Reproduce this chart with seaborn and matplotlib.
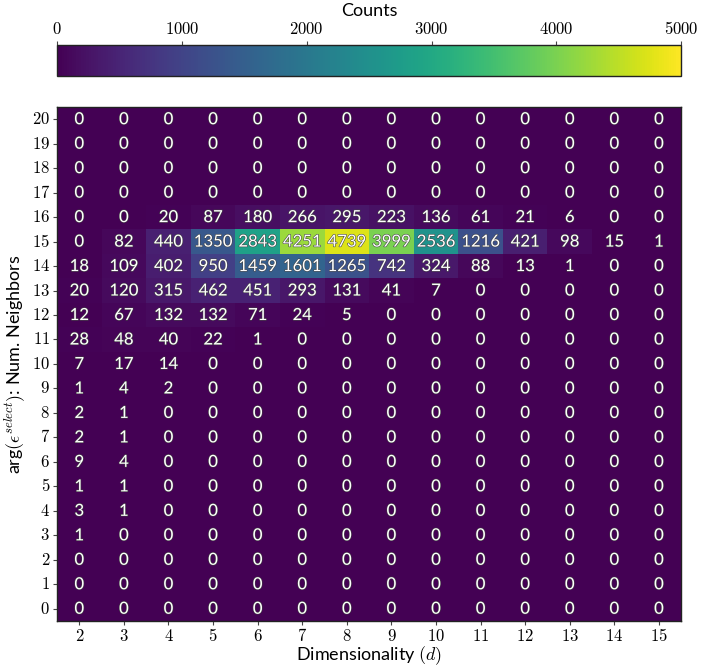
import numpy as np
import pandas as pd
import matplotlib
matplotlib.use("Agg")
import matplotlib.pyplot as plt
import matplotlib.patheffects as pe
import seaborn as sns

# data
dims = list(range(2, 16))
neighbors = list(range(20, -1, -1))

row_20 = [0] * 14
row_19 = [0] * 14
row_18 = [0] * 14
row_17 = [0] * 14
row_16 = [0, 0, 20, 87, 180, 266, 295, 223, 136, 61, 21, 6, 0, 0]
row_15 = [0, 82, 440, 1350, 2843, 4251, 4739, 3999, 2536, 1216, 421, 98, 15, 1]
row_14 = [18, 109, 402, 950, 1459, 1601, 1265, 742, 324, 88, 13, 1, 0, 0]
row_13 = [20, 120, 315, 462, 451, 293, 131, 41, 7, 0, 0, 0, 0, 0]
row_12 = [12, 67, 132, 132, 71, 24, 5, 0, 0, 0, 0, 0, 0, 0]
row_11 = [28, 48, 40, 22, 1, 0, 0, 0, 0, 0, 0, 0, 0, 0]
row_10 = [7, 17, 14, 0, 0, 0, 0, 0, 0, 0, 0, 0, 0, 0]
row_9 = [1, 4, 2, 0, 0, 0, 0, 0, 0, 0, 0, 0, 0, 0]
row_8 = [2, 1, 0, 0, 0, 0, 0, 0, 0, 0, 0, 0, 0, 0]
row_7 = [2, 1, 0, 0, 0, 0, 0, 0, 0, 0, 0, 0, 0, 0]
row_6 = [9, 4, 0, 0, 0, 0, 0, 0, 0, 0, 0, 0, 0, 0]
row_5 = [1, 1, 0, 0, 0, 0, 0, 0, 0, 0, 0, 0, 0, 0]
row_4 = [3, 1, 0, 0, 0, 0, 0, 0, 0, 0, 0, 0, 0, 0]
row_3 = [1, 0, 0, 0, 0, 0, 0, 0, 0, 0, 0, 0, 0, 0]
row_2 = [0] * 14
row_1 = [0] * 14
row_0 = [0] * 14

rows = [row_20, row_19, row_18, row_17, row_16, row_15, row_14, row_13, row_12,
        row_11, row_10, row_9, row_8, row_7, row_6, row_5, row_4, row_3, row_2,
        row_1, row_0]

cbar_ticks = [0, 1000, 2000, 3000, 4000, 5000]

df = pd.DataFrame(rows, index=neighbors, columns=dims)

plt.rcParams['mathtext.fontset'] = 'cm'

fig = plt.figure(figsize=(7.25, 6.66), dpi=100)
ax = fig.add_axes([0.0786, 0.0676, 0.861, 0.7718])
cax = fig.add_axes([0.0786, 0.8859, 0.861, 0.0465])

sns.heatmap(df, ax=ax, cbar_ax=cax, cmap='viridis', vmin=0, vmax=5000,
            annot=True, fmt='d',
            annot_kws={'color': 'white', 'fontsize': 12, 'family': 'Lato'},
            cbar_kws={'orientation': 'horizontal', 'ticks': cbar_ticks})

# seaborn picks text color per cell; force all white with a faint outline
for t in ax.texts:
    t.set_color('white')
    t.set_path_effects([pe.withStroke(linewidth=0.8, foreground='#444444')])

for s in ax.spines.values():
    s.set_visible(True)
    s.set_color('#222222')
    s.set_linewidth(1.0)

ax.set_xticklabels([f'${d}$' for d in dims], rotation=0, fontsize=12)
ax.set_yticklabels([f'${n}$' for n in neighbors], rotation=0, fontsize=12)
ax.tick_params(axis='both', length=3, pad=2, color='#444444')
ax.tick_params(axis='x', pad=1)
ax.set_xlabel(r'Dimensionality $(d)$', fontsize=13, family='Lato', labelpad=0)
ax.set_ylabel(r'arg$(\epsilon^{select})$: Num. Neighbors', fontsize=13, family='Lato', labelpad=3)

cax.xaxis.set_ticks_position('top')
cax.xaxis.set_label_position('top')
cax.set_xticklabels([f'${v}$' for v in cbar_ticks], fontsize=12)
cax.set_xlabel('Counts', fontsize=13, family='Lato', labelpad=3)
cax.tick_params(axis='x', length=3, pad=2, color='#444444')
cb = ax.collections[0].colorbar
cb.outline.set_visible(True)
cb.outline.set_edgecolor('#222222')
cb.outline.set_linewidth(1.0)

fig.savefig('out.png', dpi=100)
